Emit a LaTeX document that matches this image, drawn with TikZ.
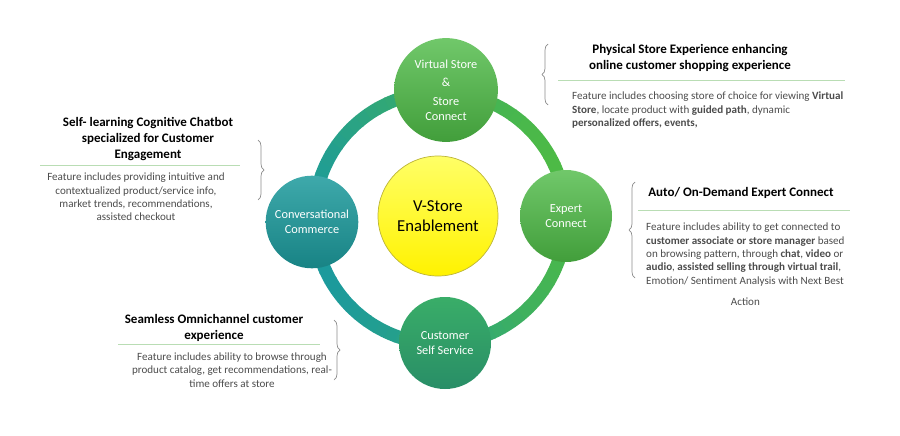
\documentclass[tikz,border=0pt]{standalone}
\usepackage{fontspec}
\setmainfont{Carlito}
\usetikzlibrary{decorations.pathreplacing,calc}
\definecolor{ringteal}{HTML}{1C9A9C}
\definecolor{ringgreen}{HTML}{4DBA45}
\definecolor{boxline}{HTML}{B9DDB4}
\tikzset{
  hub/.style={circle,minimum size=92\px,text=white,align=center,font=\fontsize{7}{8.6}\selectfont},
  title/.style={align=center,font=\fontsize{7.4}{9}\selectfont\bfseries},
  body/.style={font=\fontsize{6.3}{7.6}\selectfont,text=black!70},
  brace/.style={draw=black!45,decorate,decoration={brace,amplitude=6\px}},
}
\newlength{\px}\setlength{\px}{0.02cm}
\begin{document}
\begin{tikzpicture}[x=0.02cm,y=-0.02cm]
\useasboundingbox (0,0) rectangle (900,436);
% ring
\foreach \a in {0,5,...,355}
{
  \pgfmathtruncatemacro{\mix}{max(0,min(100,50+50*cos(\a+20)))}
  \draw[line width=13\px,color=ringgreen!\mix!ringteal] (440,218) ++(\a:126) arc[start angle=\a,end angle=\a+5.5,radius=126];
}
% centre and hubs
\node[circle,minimum size=120\px,draw=yellow!70!black,top color=yellow!60!white,bottom color=yellow!90!orange,font=\fontsize{9.5}{11.5}\selectfont,align=center] (core) at (438,216) {V-Store\\Enablement};
\node[hub,top color=ringgreen!80!white,bottom color=ringgreen!85!black] (virtual) at (446,90) {Virtual Store\\[2pt]\&\\[2pt]Store\\Connect};
\node[hub,top color=ringgreen!80!white,bottom color=ringgreen!85!black] (expert) at (566,216) {Expert\\Connect};
\node[hub,top color=ringgreen!60!ringteal,bottom color=ringgreen!40!ringteal!85!black] (self) at (445,343) {Customer\\Self Service};
\node[hub,top color=ringteal!85!white,bottom color=ringteal!85!black] (conv) at (312,222) {Conversational\\Commerce};
% top right text
\node[title] (vtitle) at (690,58) {Physical Store Experience enhancing\\online customer shopping experience};
\draw[boxline] (558,80) -- (845,80);
\node[body,anchor=north west,align=left] (vbody) at (566,86) {Feature includes choosing store of choice for viewing \textbf{Virtual}\\\textbf{Store}, locate product with \textbf{guided path}, dynamic\\\textbf{personalized offers, events,}};
\draw[brace] (548,105) -- (548,44);
% left text
\node[title] (ctitle) at (148,139) {Self- learning Cognitive Chatbot\\specialized for Customer\\Engagement};
\draw[boxline] (40,165) -- (240,165);
\node[body,align=center] (cbody) at (136,197) {Feature includes providing intuitive and\\contextualized product/service info,\\market trends, recommendations,\\assisted checkout};
\draw[brace] (258,140) -- (258,200);
% right text
\node[title] (etitle) at (741,193) {Auto/ On-Demand Expert Connect};
\draw[boxline] (638,210) -- (850,210);
\node[body,anchor=north west,align=left] (ebody) at (640,217) {Feature includes ability to get connected to\\\textbf{customer associate or store manager} based\\on browsing pattern, through \textbf{chat}, \textbf{video} or\\\textbf{audio}, \textbf{assisted selling through virtual trail},\\Emotion/ Sentiment Analysis with Next Best};
\node[body,anchor=north] (eend) at ($(ebody.south)+(0,-1)$) {Action};
\draw[brace] (635,278) -- (635,182);
% bottom left text
\node[title] (stitle) at (214,328) {Seamless Omnichannel customer\\experience};
\draw[boxline] (118,344) -- (320,344);
\node[body,align=center] (sbody) at (232,370) {Feature includes ability to browse through\\product catalog, get recommendations, real-\\time offers at store};
\draw[brace] (334,320) -- (334,380);
\end{tikzpicture}
\end{document}
